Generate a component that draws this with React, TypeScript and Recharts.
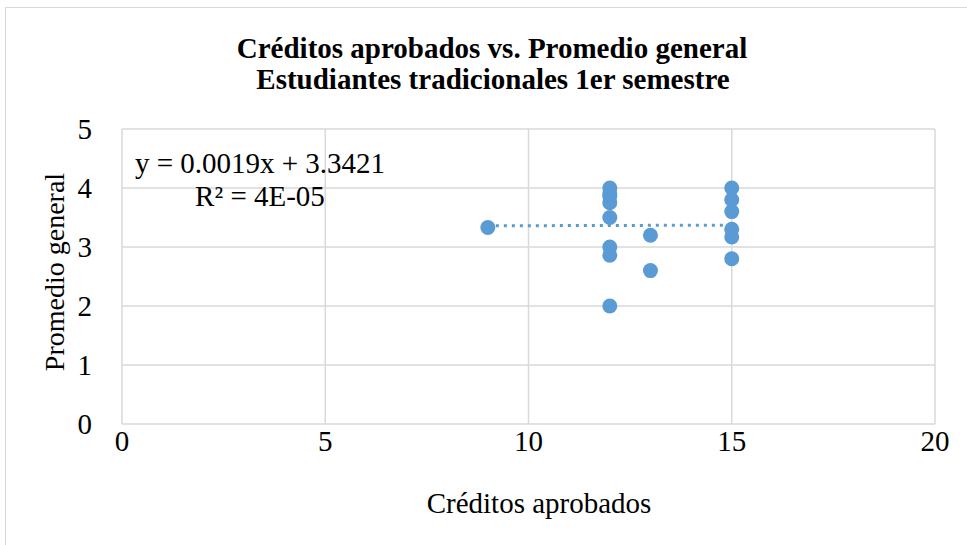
import React from 'react';
import { ScatterChart, Scatter, XAxis, YAxis, CartesianGrid } from 'recharts';

const creditos = [9, 12, 12, 12, 12, 12, 12, 12, 12, 13, 13, 15, 15, 15, 15, 15, 15];
const promedio = [3.33, 4.0, 3.86, 3.75, 3.5, 3.0, 2.86, 2.0, 3.9, 3.2, 2.6, 4.0, 3.8, 3.6, 3.3, 3.17, 2.8];
const trendX = [9, 15];
const trendY = [3.3592, 3.3706];
const xTicks = [0, 5, 10, 15, 20];
const yTicks = [0, 1, 2, 3, 4, 5];

const titleLines = ['Créditos aprobados vs. Promedio general', 'Estudiantes tradicionales 1er semestre'];
const xTitle = 'Créditos aprobados';
const yTitle = 'Promedio general';
const eqLines = ['y = 0.0019x + 3.3421', 'R² = 4E-05'];

const points = creditos.map((x, i) => ({ x, y: promedio[i] }));
const trend = trendX.map((x, i) => ({ x, y: trendY[i] }));

const FONT = 'Liberation Serif';
const BLUE = '#5B9BD5';
const GRID = '#D9D9D9';

export default function App() {
  return (
    <div style={{ position: 'absolute', left: 0, top: 0, width: 967, height: 545, background: '#fff', overflow: 'hidden' }}>
      <div
        style={{
          position: 'absolute',
          left: 5,
          top: 7,
          width: 1000,
          height: 600,
          borderLeft: `1.5px solid ${GRID}`,
          borderTop: `1.5px solid ${GRID}`,
        }}
      />
      <div style={{ position: 'absolute', left: 0, top: 0 }}>
        <ScatterChart width={967} height={545} margin={{ top: 129, right: 32, bottom: 0, left: 0 }}>
          <CartesianGrid stroke={GRID} strokeWidth={1.5} horizontal vertical />
          <XAxis
            type="number"
            dataKey="x"
            domain={[0, 20]}
            ticks={xTicks}
            height={121}
            axisLine={false}
            tickLine={false}
            tickSize={0}
            tickMargin={6}
            tick={{ fontFamily: FONT, fontSize: 29, fill: '#000' }}
            allowDataOverflow
          />
          <YAxis
            type="number"
            dataKey="y"
            domain={[0, 5]}
            ticks={yTicks}
            width={122}
            axisLine={false}
            tickLine={false}
            tickSize={0}
            tickMargin={30}
            tick={{ fontFamily: FONT, fontSize: 29, fill: '#000' }}
            allowDataOverflow
          />
          <Scatter
            data={trend}
            isAnimationActive={false}
            line={{ stroke: BLUE, strokeWidth: 3, strokeDasharray: '3 5' }}
            shape={() => null}
          />
          <Scatter data={points} isAnimationActive={false} fill={BLUE}
            shape={(p: any) => <circle cx={p.cx} cy={p.cy} r={7.5} fill={BLUE} />} />
        </ScatterChart>
      </div>
      <svg width={967} height={545} style={{ position: 'absolute', left: 0, top: 0, pointerEvents: 'none' }}>
        <text x={492} y={58} textAnchor="middle" fontFamily={FONT} fontWeight="bold" fontSize={29} fill="#000">
          {titleLines[0]}
        </text>
        <text x={493} y={89} textAnchor="middle" fontFamily={FONT} fontWeight="bold" fontSize={29} fill="#000">
          {titleLines[1]}
        </text>
        <text x={260} y={173} textAnchor="middle" fontFamily={FONT} fontSize={29} fill="#000">
          {eqLines[0]}
        </text>
        <text x={260} y={206} textAnchor="middle" fontFamily={FONT} fontSize={29} fill="#000">
          {eqLines[1]}
        </text>
        <text x={539} y={513} textAnchor="middle" fontFamily={FONT} fontSize={29} fill="#000">
          {xTitle}
        </text>
        <text
          x={0}
          y={0}
          transform="translate(64 272) rotate(-90)"
          textAnchor="middle"
          fontFamily={FONT}
          fontSize={28}
          fill="#000"
        >
          {yTitle}
        </text>
      </svg>
    </div>
  );
}
